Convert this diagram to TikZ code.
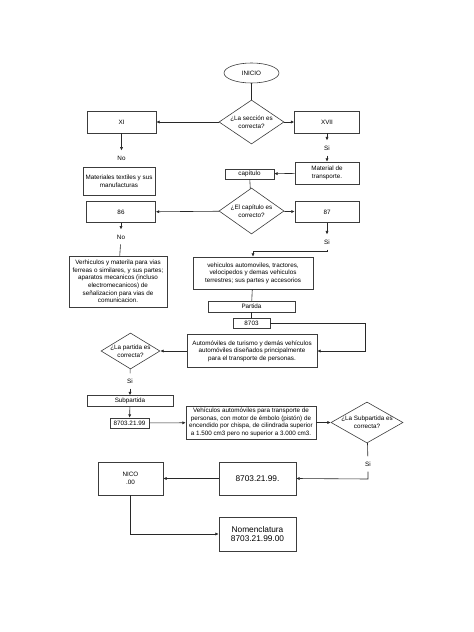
\documentclass[tikz,border=0pt]{standalone}
\usepackage{fontspec}
\setmainfont{Liberation Sans}
\usepackage{tikz}
\usetikzlibrary{arrows.meta}
\usetikzlibrary{shapes.geometric}
\definecolor{line_gray}{RGB}{40,40,40}
\definecolor{box_gray}{RGB}{60,60,60}

\begin{document}
\begin{tikzpicture}[->,line width=0.6pt,>={Latex[length=3.4pt,width=3.2pt]},x=1pt,y=-1pt,line_gray]
    \tikzstyle{txt}=[text=black,font=\fontsize{6.3}{7.6}\selectfont,align=center]
    \tikzstyle{big}=[text=black,font=\fontsize{8.3}{9.5}\selectfont,align=center]
    \tikzstyle{lbl}=[style=txt,inner sep=5pt]
    \tikzstyle{box}=[style=txt,draw=box_gray,rectangle,inner sep=1pt]
    \tikzstyle{bigbox}=[style=box,style=big]
    \tikzstyle{decision}=[draw=box_gray,diamond,inner sep=0pt]
    \tikzstyle{start}=[style=txt,draw=box_gray,ellipse,inner sep=0pt]

    \useasboundingbox (0,0) rectangle (474,632);

    \node[start,minimum width=55,minimum height=20] (Ini) at (251.5,73) {INICIO};
    \node[decision,minimum width=65,minimum height=44,
          label={[txt]center:¿La sección es\\correcta?}] (SecQ) at (251.5,122) {};
    \node[box,minimum width=69,minimum height=22]  (XI)   at (121.5,122) {XI};
    \node[box,minimum width=65,minimum height=22]  (XVII) at (327,122)   {XVII};
    \node[lbl]                                     (NoA)  at (121.5,158) {No};
    \node[lbl]                                     (SiA)  at (327,148)   {Si};
    \node[box,minimum width=72,minimum height=28]  (Tex)  at (119,181)   {Materiales textiles y sus\\manufacturas};
    \node[box,minimum width=64,minimum height=22]  (Mat)  at (327,173)   {Material de\\transporte.};
    \node[box,minimum width=49,minimum height=10]  (Cap)  at (249.5,174) {capítulo};

    \node[decision,minimum width=65,minimum height=46,
          label={[txt]center:¿El capítulo es\\correcto?}] (CapQ) at (251.5,211) {};
    \node[box,minimum width=69,minimum height=21]  (C86)  at (121,212)   {86};
    \node[box,minimum width=64,minimum height=21]  (C87)  at (327,212)   {87};
    \node[lbl]                                     (NoB)  at (121,237)   {No};
    \node[lbl]                                     (SiB)  at (327,242)   {Si};
    \coordinate (K1) at (327,251);
    \node[box,minimum width=120,minimum height=32] (Veh)  at (253,273)   {vehiculos automoviles, tractores,\\velocipedos y demas vehiculos\\terrestres; sus partes y accesorios};
    \node[box,minimum width=98,minimum height=51]  (Fer)  at (118,281.5) {Verhiculos y materila para vias\\ferreas o similares, y sus partes;\\aparatos mecanicos (incluso\\electromecanicos) de\\señalizacion para vias de\\comunicacion.};

    \node[box,minimum width=87,minimum height=11]  (Par)  at (251.5,306.5) {Partida};
    \node[box,minimum width=37,minimum height=10]  (P03)  at (251.5,323) {8703};
    \coordinate (K2) at (365,323);
    \node[box,minimum width=130,minimum height=33] (Aut)  at (252,351)   {Automóviles de turismo y demás vehículos\\automóviles diseñados principalmente\\para el transporte de personas.};
    \node[decision,minimum width=59,minimum height=36,
          label={[txt]center:¿La partida es\\correcta?}] (ParQ) at (130.5,351) {};
    \node[lbl]                                     (SiC)  at (130,381)   {Si};

    \node[box,minimum width=86,minimum height=11]  (Sub)  at (130,401)   {Subpartida};
    \node[box,minimum width=39,minimum height=10]  (S99)  at (129.5,423) {8703.21.99};
    \node[box,minimum width=130,minimum height=33] (VAut) at (251,422.5) {Vehículos automóviles para transporte de\\personas, con motor de émbolo (pistón) de\\encendido por chispa, de cilindrada superior\\a 1.500 cm3 pero no superior a 3.000 cm3.};
    \node[decision,minimum width=72,minimum height=41,
          label={[txt]center:¿La Subpartida es\\correcta?}] (SubQ) at (367,422.5) {};
    \node[lbl]                                     (SiD)  at (368,464)   {Si};
    \coordinate (K3) at (368,479);

    \node[bigbox,minimum width=77,minimum height=33] (R99)  at (257.5,478.5) {8703.21.99.};
    \node[box,minimum width=65,minimum height=33]    (Nico) at (130.5,478.5) {NICO\\.00};
    \node[bigbox,minimum width=77,minimum height=34] (Nom)  at (257.5,534)   {Nomenclatura\\8703.21.99.00};

    \path
     (Ini) edge[-] (SecQ)
     (SecQ) edge (XI)
     (SecQ) edge (XVII)
     (XI) edge (NoA)
     (XVII) edge (SiA)
     (SiA) edge (Mat)
     (Mat) edge (Cap)
     (Cap) edge[-] (CapQ)
     (CapQ) edge (C86)
     (CapQ) edge (C87)
     (C86) edge (NoB)
     (NoB) edge[-] (Fer)
     (C87) edge (SiB)
     (Veh) edge[-] (Par)
     (Par) edge[-] (P03)
     (Aut) edge (ParQ)
     (ParQ) edge[-] (SiC)
     (SiC) edge (Sub)
     (Sub) edge (S99)
     (S99) edge (VAut)
     (VAut) edge (SubQ)
     (SubQ) edge[-] (SiD)
     (R99) edge (Nico);

    \draw (SiB.south) -- (K1) -| (Veh.north);
    \draw (P03.east) -- (K2) |- (Aut.east);
    \draw (SiD.south) -- (K3) -- (R99.east);
    \draw (Nico.south) |- (Nom.west);
\end{tikzpicture}
\end{document}
